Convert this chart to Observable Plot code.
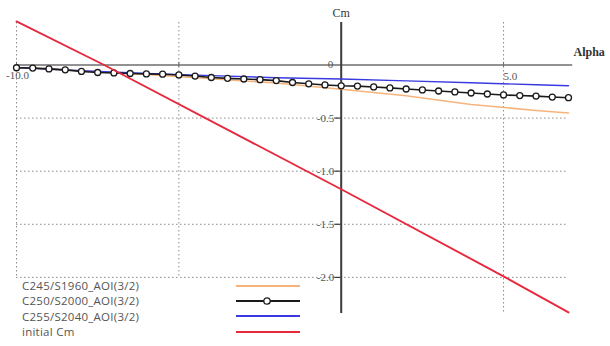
<!DOCTYPE html>
<html>
<head>
<meta charset="utf-8">
<script src="https://cdn.jsdelivr.net/npm/d3@7"></script>
<script src="https://cdn.jsdelivr.net/npm/@observablehq/plot@0.6"></script>
<style>
  html, body { margin: 0; padding: 0; background: #fff; }
  #wrap { position: relative; width: 610px; height: 346px; }
  #legend { position: absolute; left: 22px; top: 278px; font-family: "Open Sans", sans-serif; font-size: 11.5px; letter-spacing: 0.25px; color: #555; }
  #legend .row { display: flex; align-items: center; height: 15.3px; }
  #legend .lab { width: 214px; white-space: nowrap; }
</style>
</head>
<body>
<div id="wrap"><div id="legend"></div></div>
<script>
// ---- data ----
const seriesNames = ["C245/S1960_AOI(3/2)", "C250/S2000_AOI(3/2)", "C255/S2040_AOI(3/2)", "initial Cm"];
const seriesColors = ["#f6b47c", "#1a1a1a", "#3a3ae0", "#e8283c"];

const blackAlpha = [-10, -9.5, -9, -8.5, -8, -7.5, -7, -6.5, -6, -5.5, -5, -4.5, -4, -3.5, -3, -2.5, -2, -1.5, -1, -0.5,
  0, 0.5, 1, 1.5, 2, 2.5, 3, 3.5, 4, 4.5, 5, 5.5, 6, 6.5, 7];
const blackCm = [-0.026, -0.029, -0.037, -0.046, -0.061, -0.071, -0.075, -0.080, -0.084, -0.087, -0.094, -0.104, -0.118,
  -0.126, -0.132, -0.138, -0.147, -0.165, -0.177, -0.188, -0.196, -0.199, -0.207, -0.216, -0.226, -0.235, -0.245,
  -0.254, -0.264, -0.273, -0.282, -0.288, -0.293, -0.302, -0.308];

const orangeAlpha = [-10, -8, -6, -4, -2, 0, 2, 4, 6, 7];
const orangeCm = [-0.025, -0.055, -0.09, -0.13, -0.17, -0.228, -0.29, -0.372, -0.428, -0.452];

const blueAlpha = [-10, -8, -6, -4, -2, 0, 2, 4, 6, 7];
const blueCm = [-0.025, -0.055, -0.08, -0.10, -0.12, -0.132, -0.15, -0.168, -0.186, -0.195];

const redAlpha = [-10, -7.3, 0, 5, 7];
const redCm = [0.41, 0, -1.17, -1.99, -2.33];

const xGrid = [-10, -5, 5];
const yGrid = [-0.5, -1.0, -1.5, -2.0];
const yTickLabels = ["-0.5", "-1.0", "-1.5", "-2.0"];
const xTickValues = [-10, 5];
const xTickLabels = ["-10.0", "5.0"];

// ---- build tables ----
const toPts = (xs, ys) => xs.map((a, i) => ({a, c: ys[i]}));
const orange = toPts(orangeAlpha, orangeCm);
const black = toPts(blackAlpha, blackCm);
const blue = toPts(blueAlpha, blueCm);
const red = toPts(redAlpha, redCm);

const X0 = -10, X1 = 7, Y0 = -2.34, Y1 = 0.4;
const grid = {stroke: "#8a8a8a", strokeDasharray: "1.5,2.5", strokeWidth: 1};
const serif = "'Liberation Serif', 'DejaVu Serif', serif";

const chart = Plot.plot({
  width: 610, height: 346,
  marginLeft: 16, marginRight: 42, marginTop: 22, marginBottom: 33,
  x: {domain: [X0, X1], axis: null},
  y: {domain: [Y0, Y1], axis: null},
  style: {background: "transparent", fontFamily: serif},
  marks: [
    // grid
    Plot.ruleX(xGrid.filter(v => v < 0), {x: d => d, y1: Y1, y2: -2.0, ...grid}),
    Plot.ruleX(xGrid.filter(v => v > 0), {x: d => d, y1: Y1, y2: Y0, ...grid}),
    Plot.ruleY(yGrid, {y: d => d, x1: X0, x2: X1, ...grid}),
    // axes
    Plot.ruleY([0], {x1: X0, x2: X1 + 0.13, stroke: "#6e6e6e", strokeWidth: 1.6}),
    Plot.ruleX([0], {y1: Y1, y2: Y0, stroke: "#3c3c3c", strokeWidth: 2}),
    Plot.ruleY(yGrid, {y: d => d, x1: -0.2, x2: 0, stroke: "#3c3c3c", strokeWidth: 1.2}),
    Plot.ruleX(xGrid, {x: d => d, y1: 0.025, y2: -0.025, stroke: "#6e6e6e", strokeWidth: 1}),
    // tick labels
    Plot.text(yGrid, {x: 0, y: d => d, text: (d, i) => yTickLabels[i], textAnchor: "end", dx: -7, fill: "#555", fontSize: 11, fontFamily: serif}),
    Plot.text([0], {x: 0, y: 0, text: () => "0", textAnchor: "end", dx: -8, dy: -1, fill: "#555", fontSize: 11, fontFamily: serif}),
    Plot.text([xTickValues[0]], {x: d => d, y: 0, text: () => xTickLabels[0], textAnchor: "middle", dx: 1, dy: 10, fill: "#555", fontSize: 11, fontFamily: serif}),
    Plot.text([xTickValues[1]], {x: d => d, y: 0, text: () => xTickLabels[1], textAnchor: "start", dx: 0, dy: 11, fill: "#555", fontSize: 11, fontFamily: serif}),
    // axis titles
    Plot.text(["Cm"], {x: 0, y: Y1, text: d => d, textAnchor: "middle", dy: -9, fill: "#333", fontSize: 12, fontFamily: serif}),
    Plot.text(["Alpha"], {x: X1, y: 0, text: d => d, textAnchor: "start", dx: 5, dy: -13, fill: "#333", fontSize: 12, fontWeight: "bold", fontFamily: serif}),
    // series
    Plot.line(orange, {x: "a", y: "c", stroke: seriesColors[0], strokeWidth: 1.6}),
    Plot.line(blue, {x: "a", y: "c", stroke: seriesColors[2], strokeWidth: 1.4}),
    Plot.line(black, {x: "a", y: "c", stroke: seriesColors[1], strokeWidth: 1.6}),
    Plot.dot(black, {x: "a", y: "c", r: 3, fill: "white", stroke: seriesColors[1], strokeWidth: 1.3}),
    Plot.line(red, {x: "a", y: "c", stroke: seriesColors[3], strokeWidth: 1.9})
  ]
});
document.getElementById("wrap").prepend(chart);
chart.style.position = "absolute";
chart.style.left = "0";
chart.style.top = "0";

// legend (HTML, overlaid below the grid area)
const legend = document.getElementById("legend");
seriesNames.forEach((name, i) => {
  const row = document.createElement("div");
  row.className = "row";
  const marker = i === 1 ? `<circle cx="31" cy="4" r="3.2" fill="white" stroke="${seriesColors[i]}" stroke-width="1.3"/>` : "";
  row.innerHTML = `<span class="lab">${name}</span><svg width="64" height="8"><line x1="0" x2="64" y1="4" y2="4" stroke="${seriesColors[i]}" stroke-width="1.8"/>${marker}</svg>`;
  legend.appendChild(row);
});
</script>
</body>
</html>
